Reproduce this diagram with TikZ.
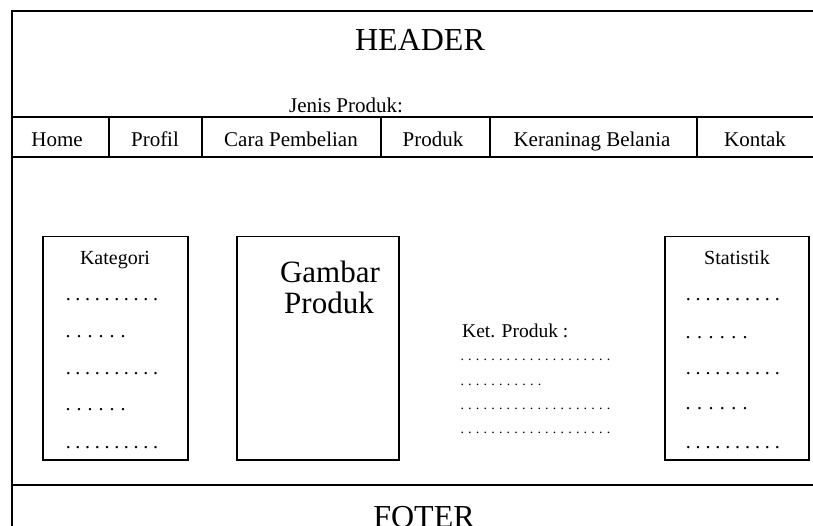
\documentclass[tikz,border=0pt]{standalone}
\usepackage{fontspec}
\setmainfont{Liberation Serif}
% a row of evenly spaced full stops: total width, spacing
\newcommand\dotrow[2]{\hbox to #1{\xleaders\hbox to #2{\hss.\hss}\hfill}}
\begin{document}
\begin{tikzpicture}[x=1pt,y=-1pt,
  frame/.style={line width=2pt},
  panel/.style={draw, line width=1.5pt, rectangle, inner sep=0pt, anchor=north west},
  txt/.style={inner sep=0pt, anchor=base},
  big/.style={txt, font=\fontsize{32}{32}\selectfont},
  navtext/.style={txt, font=\fontsize{21}{21}\selectfont},
  boxtitle/.style={txt, font=\fontsize{20}{20}\selectfont},
  dotsbig/.style={inner sep=0pt, anchor=base west, font=\fontsize{20}{20}\selectfont},
  dotssmall/.style={inner sep=0pt, anchor=base west, font=\fontsize{14}{14}\selectfont},
]
\clip (0,0) rectangle (813,526);
\fill[white] (0,0) rectangle (813,526);

% page frame, navigation bar and footer rule
\draw[frame] (12,11) rectangle (860,570);
\draw[frame] (12,117) -- (860,117);
\draw[frame] (12,157) -- (860,157);
\draw[frame] (12,485) -- (860,485);
\foreach \x in {109,202,381,490,697} \draw[frame] (\x,117) -- (\x,157);

% header and footer
\node[big] (header) at (420,51) {HEADER};
\node[big] (footer) at (424,527) {FOTER};
\node[navtext] (jenis) at (346,113) {Jenis Produk:};

% menu items
\node[navtext] (home) at (57,147) {Home};
\node[navtext] (profil) at (155,147) {Profil};
\node[navtext] (cara) at (291,147) {Cara Pembelian};
\node[navtext] (produk) at (433,147) {Produk};
\node[navtext] (keranjang) at (592,147) {Keraninag Belania};
\node[navtext] (kontak) at (755,147) {Kontak};

% content panels
\node[panel, minimum width=145pt, minimum height=223pt] (kategori) at (42,236) {};
\node[panel, minimum width=162pt, minimum height=223pt] (gambarbox) at (236,236) {};
\node[panel, minimum width=144pt, minimum height=223pt] (statistik) at (664,236) {};

% category list
\node[boxtitle] (kattitle) at (115,265) {Kategori};
\node[dotsbig] (k1) at (63.2,300.5) {\dotrow{97pt}{9.7pt}};
\node[dotsbig] (k2) at (62.5,337.5) {\dotrow{66pt}{11pt}};
\node[dotsbig] (k3) at (63.2,374.5) {\dotrow{97pt}{9.7pt}};
\node[dotsbig] (k4) at (62.5,410.5) {\dotrow{66pt}{11pt}};
\node[dotsbig] (k5) at (63.2,448.5) {\dotrow{97pt}{9.7pt}};

% product picture
\node[big, font=\fontsize{31}{31}\selectfont] (gambar) at (330,283) {Gambar};
\node[big, font=\fontsize{31}{31}\selectfont] (produkimg) at (329,313) {Produk};

% product description
\node[inner sep=0pt, anchor=base west, font=\fontsize{19.5}{19.5}\selectfont] (ket) at (462,337) {Ket. Produk :};
\node[dotssmall] (d1) at (458.2,360) {\dotrow{154pt}{7.7pt}};
\node[dotssmall] (d2) at (458.2,385) {\dotrow{85pt}{7.7pt}};
\node[dotssmall] (d3) at (458.2,409) {\dotrow{154pt}{7.7pt}};
\node[dotssmall] (d4) at (458.2,433) {\dotrow{154pt}{7.7pt}};

% statistics list
\node[boxtitle] (stattitle) at (737,265) {Statistik};
\node[dotsbig] (s1) at (683.1,300.5) {\dotrow{99pt}{9.9pt}};
\node[dotsbig] (s2) at (682.3,338.5) {\dotrow{68.4pt}{11.4pt}};
\node[dotsbig] (s3) at (683.1,374.5) {\dotrow{99pt}{9.9pt}};
\node[dotsbig] (s4) at (682.3,409.5) {\dotrow{68.4pt}{11.4pt}};
\node[dotsbig] (s5) at (683.1,448.5) {\dotrow{99pt}{9.9pt}};
\end{tikzpicture}
\end{document}
